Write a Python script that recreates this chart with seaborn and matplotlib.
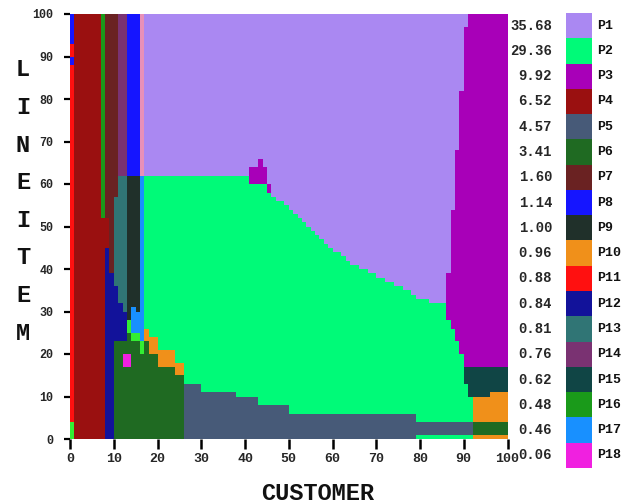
import numpy as np
import matplotlib
matplotlib.use("Agg")
import matplotlib.pyplot as plt
from matplotlib.colors import ListedColormap
import seaborn as sns

# ---- parts, their shares and colours -------------------------------------
parts = [f"P{i}" for i in range(1, 19)]
shares = [35.68, 29.36, 9.92, 6.52, 4.57, 3.41, 1.60, 1.14, 1.00,
          0.96, 0.88, 0.84, 0.81, 0.76, 0.62, 0.48, 0.46, 0.06]
part_colors = ["#aa88f2", "#00fa78", "#a800b8", "#9a1010", "#475a78",
               "#1f6a22", "#6a2222", "#1515ff", "#20302a", "#f0901a",
               "#ff1010", "#12129a", "#307575", "#7a3272", "#104545",
               "#1a9a1a", "#1890ff", "#f020e0"]
# two unlisted shades that appear on a few cells
blend_names = ["lime", "rose"]
blend_colors = ["#33ee33", "#e890b8"]

x_ticks = [0, 10, 20, 30, 40, 50, 60, 70, 80, 90, 100]
y_ticks = [0, 10, 20, 30, 40, 50, 60, 70, 80, 90, 100]

# ---- region boundaries on the 100 x 100 customer / lineitem grid ----------
# P2 upper edge, one value per customer column starting at p2_x0
p2_x0 = 17
p2_top = ([62] * 24
          + [60, 60, 60, 60, 58, 57, 56, 56, 55, 54, 53, 52, 51, 50, 49,
             48, 47, 46, 45, 44, 44, 43, 42, 41, 41, 40, 40, 39, 39, 38,
             38, 37, 37, 36, 36, 35, 35, 34, 33, 33, 33, 32, 32, 32, 32]
          + [28, 26, 23, 20] + [17] * 10)
# P3 band on the right edge
p3_x0 = 86
p3_bottom = [28, 26, 23, 20] + [17] * 10
p3_top = [39, 54, 68, 82, 97] + [100] * 9
# P5 staircase along the bottom
p5_edges = [26, 30, 38, 43, 50, 79, 92]
p5_tops = [13, 11, 10, 8, 6, 4]
# P6 block and the P10 band sitting on it
p6_x0 = 10
p6_top = [23, 23, 23, 25, 23, 23, 20, 23, 20, 20, 17, 17, 17, 17, 15, 15]
p10_x0 = 17
p10_top = [26, 24, 24, 21, 21, 21, 21, 18, 18]
# rectangular pieces: (name, x0, x1, y0, y1)
blocks = [
    ("P8", 0, 1, 93, 100), ("P11", 0, 1, 90, 93), ("P8", 0, 1, 88, 90),
    ("P11", 0, 1, 4, 88), ("lime", 0, 1, 0, 4),
    ("P4", 1, 7, 0, 100), ("P16", 7, 8, 52, 100), ("P4", 7, 8, 0, 52),
    ("P7", 8, 9, 52, 100), ("P4", 8, 9, 45, 52), ("P12", 8, 9, 0, 45),
    ("P7", 9, 10, 39, 100), ("P12", 9, 10, 0, 39),
    ("P7", 10, 11, 57, 100), ("P13", 10, 11, 36, 57), ("P12", 10, 11, 23, 36),
    ("P14", 11, 13, 62, 100),
    ("P13", 11, 12, 32, 62), ("P12", 11, 12, 23, 32),
    ("P13", 12, 13, 30, 62), ("P12", 12, 13, 23, 30),
    ("P8", 13, 16, 62, 100),
    ("P9", 13, 14, 28, 62), ("lime", 13, 14, 25, 28),
    ("P9", 14, 15, 31, 62), ("P17", 14, 15, 25, 31),
    ("P9", 15, 16, 30, 62), ("P17", 15, 16, 25, 30),
    ("lime", 14, 16, 23, 25),
    ("rose", 16, 17, 62, 100), ("P17", 16, 17, 23, 62), ("lime", 16, 17, 20, 23),
    ("P18", 12, 14, 17, 20),
    ("P3", 41, 45, 60, 64), ("P3", 43, 44, 64, 66), ("P3", 45, 46, 58, 60),
    ("P2", 79, 92, 0, 1),
    ("P15", 90, 91, 13, 17), ("P15", 91, 96, 10, 17), ("P15", 96, 100, 11, 17),
    ("P10", 92, 96, 4, 10), ("P10", 96, 100, 4, 11),
    ("P6", 92, 100, 1, 4), ("P10", 92, 100, 0, 1),
]

# ---- build the grid --------------------------------------------------------
cell_names = parts + blend_names
cell_colors = part_colors + blend_colors
code = {n: i for i, n in enumerate(cell_names)}
grid = np.full((100, 100), code["P1"])


def paint(name, x0, x1, y0, y1):
    grid[y0:y1, x0:x1] = code[name]


for i, top in enumerate(p2_top):
    paint("P2", p2_x0 + i, p2_x0 + i + 1, 0, top)
for i, (lo, hi) in enumerate(zip(p3_bottom, p3_top)):
    paint("P3", p3_x0 + i, p3_x0 + i + 1, lo, hi)
for x0, x1, top in zip(p5_edges[:-1], p5_edges[1:], p5_tops):
    paint("P5", x0, x1, 0, top)
for i, top in enumerate(p6_top):
    paint("P6", p6_x0 + i, p6_x0 + i + 1, 0, top)
for i, top in enumerate(p10_top):
    x = p10_x0 + i
    paint("P10", x, x + 1, p6_top[x - p6_x0], top)
for name, x0, x1, y0, y1 in blocks:
    paint(name, x0, x1, y0, y1)

# ---- draw ------------------------------------------------------------------
sns.set_style("white")
plt.rcParams["font.family"] = ["Liberation Mono", "DejaVu Sans Mono"]
plt.rcParams["font.weight"] = "bold"
plt.rcParams["text.color"] = "#111111"

W, H = 628, 504
fig = plt.figure(figsize=(W / 100, H / 100), dpi=100)
ax = fig.add_axes([70 / W, 1 - 439 / H, 437.5 / W, 425 / H])

sns.heatmap(grid, ax=ax, cmap=ListedColormap(cell_colors),
            vmin=-0.5, vmax=len(cell_names) - 0.5, cbar=False,
            xticklabels=False, yticklabels=False)
ax.invert_yaxis()
ax.set_xticks(x_ticks)
ax.set_xticklabels([str(t) for t in x_ticks], fontsize=9.5, fontweight="bold")
ax.set_yticks(y_ticks)
ax.set_yticklabels([str(t) for t in y_ticks], fontsize=8.5, fontweight="bold",
                   rotation=0)
ax.tick_params(axis="x", length=7, width=1.8, pad=3, color="black",
               bottom=True)
ax.tick_params(axis="y", length=4, width=1.6, pad=8, color="black", left=True)
ax.set_xlabel("")
ax.set_ylabel("")

fig.text(318 / W, 1 - 493 / H, "CUSTOMER", ha="center", va="center",
         fontsize=17, fontweight="bold")
for i, ch in enumerate("LINEITEM"):
    fig.text(23 / W, 1 - (70 + 37.6 * i) / H, ch, ha="center", va="center",
             fontsize=17, fontweight="bold")

# legend column: one coloured box per part
lax = fig.add_axes([566 / W, 1 - 468 / H, 26 / W, 455 / H])
sns.heatmap(np.arange(len(parts))[:, None], ax=lax,
            cmap=ListedColormap(part_colors), vmin=-0.5,
            vmax=len(parts) - 0.5, cbar=False, xticklabels=False,
            yticklabels=[f"{s:.2f}" for s in shares])
lax.tick_params(axis="y", length=0, pad=10, labelsize=10)
for lbl in lax.get_yticklabels():
    lbl.set_rotation(0)
    lbl.set_fontweight("bold")
for i, name in enumerate(parts):
    lax.text(1.2, i + 0.5, name, va="center", ha="left", fontsize=9.5,
             fontweight="bold")

fig.savefig("out.png", dpi=100)
